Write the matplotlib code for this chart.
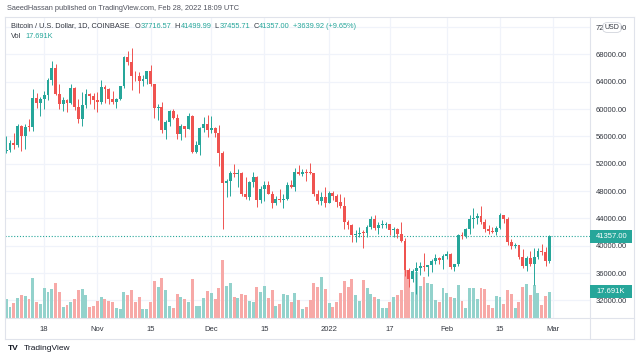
import numpy as np
import pandas as pd
import matplotlib
matplotlib.use("Agg")
import matplotlib.pyplot as plt
from matplotlib.lines import Line2D
from matplotlib.patches import FancyBboxPatch, Rectangle

plt.rcParams['font.family'] = ['Liberation Sans', 'DejaVu Sans']

# ---------------- data ----------------
dates = pd.date_range("2021-10-08", "2022-02-28", freq="D")

opens = [
    53790, 53950, 54960, 54680, 57480, 56010, 57370, 57350, 61670, 60880, 61530, 62010, 64280, 66000, 62210, 60690,
    61290, 60860, 63080, 60330, 58480, 60620, 62270, 61890,
    61340, 61020, 63230, 62930, 61440, 61000, 61530, 63300, 67560, 66940, 64880, 64780, 64150, 64400, 65510, 63620,
    60110, 60360, 56890, 58100, 59720, 58690, 56290, 57560, 57150, 58960, 53730, 54720, 57270, 57800,
    56950, 57200, 56510, 53600, 49200, 49400, 50580, 50470, 50600, 47560, 47150, 49390, 50100, 46710, 48360, 48880,
    47640, 46200, 46870, 46690, 46900, 48930, 48610, 50820, 50430, 50800, 50710, 50680, 47540, 46470, 47130,
    46220, 47740, 47310, 46440, 45830, 43430, 43080, 41550, 41680, 41850, 41830, 42740, 43920, 42580, 43090, 43100,
    43180, 42250, 42380, 41680, 40690, 36460, 35070, 36280, 36690, 36960, 36830, 37190, 37720, 38170, 37920,
    38480, 38740, 36900, 37330, 41570, 41400, 42410, 43850, 44080, 44380, 43540, 42400, 42200, 42060, 42540, 44560,
    43880, 40540, 40000, 40120, 38380, 37020, 38250, 37260, 38330, 39220, 39120, 37716.57,
]
highs = [
    56100, 55480, 56500, 57830, 57680, 57750, 58530, 62930, 62330, 61710, 62620, 64500, 67000, 66640, 63730, 61740,
    61490, 63720, 63290, 61500, 62480, 62950, 62330, 62420,
    62450, 64270, 63520, 63100, 62630, 61590, 63300, 67800, 68530, 69000, 65600, 65480, 64990, 65350, 66400, 63620,
    60800, 60960, 58350, 59850, 60000, 59270, 57870, 57560, 59390, 59130, 55290, 57390, 58860, 59200,
    59050, 57400, 57600, 53880, 49700, 50880, 51950, 51200, 50800, 50100, 49480, 50800, 50200, 48700, 49500, 49450,
    48000, 47340, 48320, 47550, 49320, 49580, 51380, 51820, 51160, 51270, 52080, 50680, 48120, 47900, 48550,
    47940, 47990, 47570, 47510, 47070, 43750, 43140, 42310, 42790, 42250, 43100, 44350, 44460, 43450, 43800, 43480,
    43200, 42700, 42580, 43500, 41100, 36800, 36550, 37550, 37550, 38920, 37230, 38000, 38720, 38370, 38740,
    39260, 38860, 37390, 41750, 41940, 42650, 44500, 45500, 44790, 45820, 43940, 43000, 42760, 42880, 44770, 44560,
    44200, 40970, 40450, 40150, 39490, 38440, 39260, 39600, 39720, 40300, 39850, 41499.99,
]
lows = [
    53620, 53680, 54100, 54430, 53880, 54180, 56820, 56850, 60150, 58960, 60000, 61330, 63480, 62000, 60000, 59700,
    59560, 60670, 59820, 58000, 57450, 60200, 60760, 60000,
    59500, 60700, 60950, 60690, 60730, 60100, 61370, 63080, 66380, 62800, 64120, 62300, 63390, 63600, 63420, 58620,
    58420, 56500, 55600, 57450, 58470, 55630, 55400, 55870, 57010, 53550, 53620, 53300, 56710, 55890,
    56470, 55850, 51680, 42400, 47100, 47300, 50050, 48600, 47320, 46900, 46750, 48650, 45700, 46300, 46550, 47520,
    45500, 45950, 46410, 45580, 46640, 48450, 48030, 50410, 50180, 49450, 50470, 47320, 46070, 46000, 45660,
    46220, 46650, 45700, 45500, 42500, 42440, 40610, 40500, 41230, 39650, 41270, 42470, 42300, 41740, 42570, 42620,
    41540, 41250, 41150, 40600, 35500, 34000, 34620, 32950, 35700, 36250, 35520, 36160, 37300, 37350, 36630,
    38000, 36600, 36250, 37040, 40990, 41150, 41670, 42660, 43150, 43220, 42000, 41780, 41880, 41570, 42430, 43330,
    40100, 39450, 39650, 38000, 36800, 36360, 37050, 34320, 38020, 38600, 37000, 37455.71,
]
closes = [
    53950, 54960, 54680, 57480, 56010, 57370, 57350, 61670, 60880, 61530, 62010, 64280, 66000, 62210, 60690, 61290,
    60860, 63080, 60330, 58480, 60620, 62270, 61890, 61340,
    61020, 63230, 62930, 61440, 61000, 61530, 63300, 67560, 66940, 64880, 64780, 64150, 64400, 65510, 63620, 60110,
    60360, 56890, 58100, 59720, 58690, 56290, 57560, 57150, 58960, 53730, 54720, 57270, 57800, 56950,
    57200, 56510, 53600, 49200, 49400, 50580, 50470, 50600, 47560, 47150, 49390, 50100, 46710, 48360, 48880, 47640,
    46200, 46870, 46690, 46900, 48930, 48610, 50820, 50430, 50800, 50710, 50680, 47540, 46470, 47130, 46220,
    47740, 47310, 46440, 45830, 43430, 43080, 41550, 41680, 41850, 41830, 42740, 43920, 42580, 43090, 43100, 43180,
    42250, 42380, 41680, 40690, 36460, 35070, 36280, 36690, 36960, 36830, 37190, 37720, 38170, 37920, 38480,
    38740, 36900, 37330, 41570, 41400, 42410, 43850, 44080, 44380, 43540, 42400, 42200, 42060, 42540, 44560, 43880,
    40540, 40000, 40120, 38380, 37020, 38250, 37260, 38330, 39220, 39120, 37717.08, 41357.00,
]
volumes_k = [
    12.6, 7.6, 9.9, 13.6, 15.4, 14.8, 12.6, 27.1, 10.5, 9.4, 20.0, 17.5, 19.5, 23.8, 17.2, 7.2,
    8.7, 10.8, 12.6, 19.0, 19.7, 15.4, 7.2, 8.4,
    11.7, 13.9, 13.0, 11.2, 10.8, 6.7, 5.8, 17.7, 15.2, 18.8, 10.5, 13.9, 6.3, 6.3, 10.5, 25.1,
    21.1, 26.6, 18.6, 8.1, 6.7, 15.9, 14.2, 12.6, 10.8, 26.0, 8.1, 8.3, 13.6, 18.1,
    17.0, 13.0, 20.0, 39.0, 21.8, 23.3, 14.4, 13.5, 15.9, 15.4, 11.4, 10.5, 20.9, 17.5, 21.5, 13.2,
    18.8, 8.3, 9.6, 15.9, 15.4, 11.0, 16.8, 11.9, 5.9, 7.2, 11.9, 23.3, 20.6, 27.5, 19.3,
    9.9, 7.6, 11.0, 16.6, 25.1, 20.9, 26.2, 15.7, 11.4, 25.6, 20.0, 16.3, 14.2, 13.0, 6.9, 6.9,
    10.8, 14.2, 15.4, 18.7, 32.6, 26.9, 17.7, 30.7, 21.7, 27.8, 23.8, 22.9, 11.9, 11.0, 20.0,
    16.6, 14.1, 13.6, 22.5, 11.4, 6.9, 20.4, 20.4, 13.0, 20.4, 19.7, 8.7, 6.5, 14.8, 14.4, 9.2,
    18.8, 15.9, 6.5, 11.0, 20.6, 22.9, 15.4, 22.4, 17.0, 8.7, 14.8, 17.691,
]

price_ticks = [32000, 36000, 40000, 44000, 48000, 52000, 56000, 60000, 64000, 68000, 72000]
tick_dates = ["2021-10-18", "2021-11-01", "2021-11-15", "2021-12-01", "2021-12-15",
              "2022-01-01", "2022-01-17", "2022-02-01", "2022-02-15", "2022-03-01"]
tick_labels = ["18", "Nov", "15", "Dec", "15", "2022", "17", "Feb", "15", "Mar"]

# ---------------- style ----------------
UP, DOWN = '#26a69a', '#ef5350'
UP_V, DOWN_V = '#93d2cc', '#f7a9a7'
GRID = '#f0f3fa'
BORDER = '#e0e3eb'
TXT = '#333740'

W, H = 640, 358
fig = plt.figure(figsize=(W / 100, H / 100), dpi=100)
fig.patch.set_facecolor('white')


def rect(l, t, r, b):
    return [l / W, 1 - b / H, (r - l) / W, (b - t) / H]


R = rect(5, 17, 590, 318)
axg = fig.add_axes(R)
axv = fig.add_axes(R, sharex=axg)
ax = fig.add_axes(R, sharex=axg)

x = np.arange(len(dates))
o = np.array(opens, float)
h = np.array(highs, float)
l = np.array(lows, float)
c = np.array(closes, float)
v = np.array(volumes_k, float)
up = c >= o

XMIN, XMAX = -0.32, 153.7
YMIN, YMAX = 29420, 73470

tick_x = [(pd.Timestamp(d) - dates[0]).days for d in tick_dates]

# grid layer
axg.set_xlim(XMIN, XMAX)
axg.set_ylim(YMIN, YMAX)
for tx in tick_x:
    axg.axvline(tx, color=GRID, lw=0.9, zorder=0)
for py in price_ticks:
    axg.axhline(py, color=GRID, lw=0.9, zorder=0)
axg.axis('off')

# volume layer
axv.bar(x, v, width=0.78, color=np.where(up, UP_V, DOWN_V), linewidth=0)
axv.set_ylim(0, 202.4)
axv.patch.set_visible(False)
axv.axis('off')

# candles
ax.patch.set_visible(False)
ccol = np.where(up, UP, DOWN)
ax.vlines(x, l, h, colors=ccol, lw=0.7, zorder=2)
body = np.maximum(np.abs(c - o), 120)
ax.bar(x, body, bottom=np.minimum(o, c), width=0.76, color=ccol, linewidth=0, zorder=3)
ax.axhline(c[-1], color=UP, lw=0.8, ls=(0, (1, 1.6)), zorder=1)
ax.set_xlim(XMIN, XMAX)
ax.set_ylim(YMIN, YMAX)
for s in ax.spines.values():
    s.set_visible(False)
ax.yaxis.tick_right()
ax.set_yticks(price_ticks)
ax.set_yticklabels([f"{p:.2f}" for p in price_ticks])
ax.set_xticks(tick_x)
ax.set_xticklabels(tick_labels)
ax.tick_params(axis='both', length=0, labelsize=5.5, labelcolor=TXT)
ax.tick_params(axis='y', pad=4.3)
ax.tick_params(axis='x', pad=5.5)

# frame lines
def fline(x0, y0, x1, y1, col=BORDER, lw=0.8):
    fig.add_artist(Line2D([x0 / W, x1 / W], [1 - y0 / H, 1 - y1 / H], color=col, lw=lw,
                          transform=fig.transFigure))

fline(5, 17, 634, 17)
fline(5, 339, 634, 339)
fline(5, 17, 5, 339)
fline(634, 17, 634, 339)
fline(590, 17, 590, 339)
fline(5, 318, 634, 318)

fig.canvas.draw()
FH = fig.bbox.height


def label_box(axis, yval, text):
    yd = axis.transData.transform((0, yval))[1] / FH
    fig.add_artist(Rectangle((590 / W, yd - 6.2 / H), 42 / W, 12.4 / H, transform=fig.transFigure,
                             facecolor=UP, edgecolor='none', zorder=5))
    fig.text(596 / W, yd, text, color='white', fontsize=5.5, va='center', ha='left', zorder=6)


label_box(ax, c[-1], f"{c[-1]:.2f}")
label_box(axv, v[-1], f"{v[-1]:.3f}K")

# USD badge drawn over the top tick label, as in the reference
fig.add_artist(FancyBboxPatch((603 / W, 1 - 32.5 / H), 18 / W, 10 / H,
                              boxstyle="round,pad=0,rounding_size=0.008", transform=fig.transFigure,
                              facecolor='white', edgecolor='#d1d4dc', lw=0.6, zorder=5))
fig.text(612 / W, 1 - 27.3 / H, "USD", fontsize=5, color=TXT, ha='center', va='center', zorder=6)

# header
fig.text(7 / W, 1 - 9 / H, "SaeedHassan published on TradingView.com, Feb 28, 2022 18:09 UTC",
         fontsize=5.3, color='#50535e', va='center', ha='left')

renderer = fig.canvas.get_renderer()


def seq_text(x0, y0, pieces, size=5.3):
    xp = x0
    for txt, col, gap in pieces:
        t = fig.text(xp / W, 1 - y0 / H, txt, fontsize=size, color=col, va='center', ha='left')
        bb = t.get_window_extent(renderer=renderer)
        xp = bb.x1 + gap


chg = c[-1] - c[-2]
pct = chg / c[-2] * 100
seq_text(11, 26, [
    ("Bitcoin / U.S. Dollar, 1D, COINBASE", TXT, 5),
    ("O", TXT, 0.3), (f"{o[-1]:.2f}", UP, 3.5),
    ("H", TXT, 0.3), (f"{h[-1]:.2f}", UP, 3.5),
    ("L", TXT, 0.3), (f"{l[-1]:.2f}", UP, 3.5),
    ("C", TXT, 0.3), (f"{c[-1]:.2f}", UP, 3.5),
    (f"+{chg:.2f} (+{pct:.2f}%)", UP, 0),
])
seq_text(11, 37, [("Vol", TXT, 4), (f"{v[-1]:.3f}K", UP, 0)])

# footer
fig.text(8 / W, 1 - 348 / H, "TV", fontsize=6, fontweight='bold', color='#131722', va='center', ha='left')
fig.text(24 / W, 1 - 348 / H, "TradingView", fontsize=6, color='#131722', va='center', ha='left')

fig.savefig("out.png", dpi=100, facecolor='white')
